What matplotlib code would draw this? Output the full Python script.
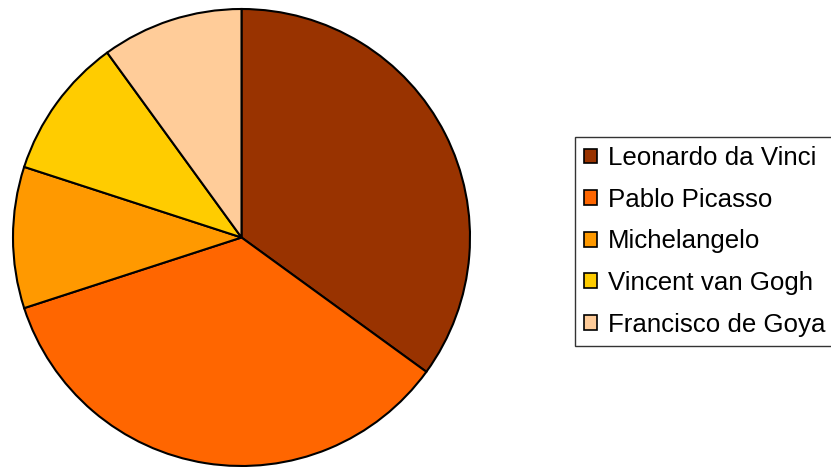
import matplotlib
matplotlib.use("Agg")
import matplotlib.pyplot as plt
from matplotlib.patches import Patch

labels = ["Leonardo da Vinci", "Pablo Picasso", "Michelangelo", "Vincent van Gogh", "Francisco de Goya"]
values = [35, 35, 10, 10, 10]
colors = ["#993300", "#FF6600", "#FF9900", "#FFCC00", "#FFCC99"]

plt.rcParams['font.family'] = ['Liberation Sans', 'DejaVu Sans']

W, H = 831, 467
fig = plt.figure(figsize=(W/100, H/100), dpi=100)
ax = fig.add_axes([12/W, 1/H, 459/W, 457/H])
ax.pie(values, colors=colors, startangle=90, counterclock=False,
       wedgeprops=dict(edgecolor="black", linewidth=1.5))
ax.set_xlim(-1.0, 1.0)
ax.set_ylim(-1.0, 1.0)
ax.axis("off")

handles = [Patch(facecolor=c, edgecolor="black", linewidth=1.2) for c in colors]
leg = fig.legend(handles, labels, loc="upper left",
                 bbox_to_anchor=(575/W, 1 - 137/H),
                 fontsize=18.6, frameon=True, fancybox=False,
                 handlelength=0.5, handleheight=0.5, handletextpad=0.42,
                 labelspacing=0.68, borderpad=0.36, borderaxespad=0)
leg.get_frame().set_edgecolor("black")
leg.get_frame().set_linewidth(1.0)

fig.savefig("out.png", dpi=100)
